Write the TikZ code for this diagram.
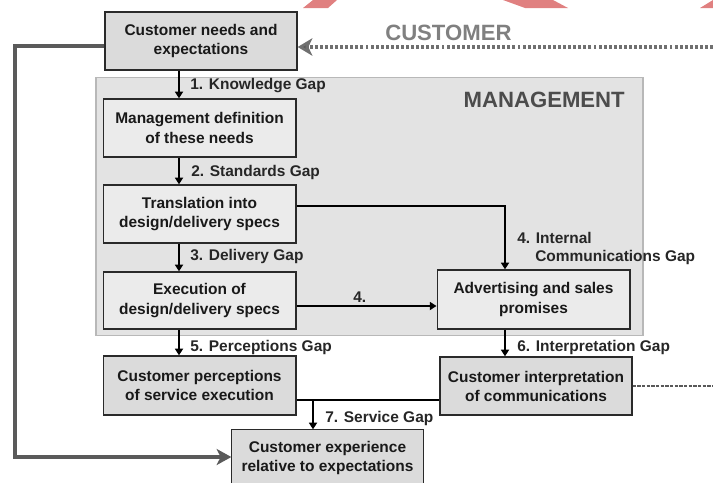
\documentclass[tikz,border=0pt]{standalone}
\usepackage{fontspec}
\setmainfont{Liberation Sans}
\usetikzlibrary{arrows.meta,backgrounds}
\definecolor{boxline}{HTML}{2A2A2A}
\definecolor{mgmtfill}{HTML}{E3E3E3}
\definecolor{mgmtline}{HTML}{B8B8B8}
\definecolor{lightbox}{HTML}{EBEBEB}
\definecolor{darkbox}{HTML}{DBDBDB}
\definecolor{fbgray}{HTML}{5A5A5A}
\definecolor{dotgray}{HTML}{707070}
\definecolor{wmark}{HTML}{E08080}
\tikzset{
  box/.style={draw=boxline, line width=1pt, minimum width=144.5pt, minimum height=43.5pt,
    align=center, inner sep=0pt, font=\bfseries\fontsize{11.6}{14.3}\selectfont, text=black!90},
  lbox/.style={box, fill=lightbox},
  dbox/.style={box, fill=darkbox},
  gaplabel/.style={anchor=west, inner sep=0pt, font=\bfseries\fontsize{11.6}{14.3}\selectfont, text=black!85},
  arr/.style={line width=1.4pt, -{Triangle[width=6pt,length=5pt]}},
  plain/.style={line width=1.4pt},
  fb/.style={draw=fbgray, line width=2.6pt, -{Stealth[width=12pt,length=11pt,inset=3pt]}},
  dotarr/.style={draw=dotgray, line width=2.4pt, dash pattern=on 2.2pt off 1.6pt,
    -{Stealth[width=13pt,length=11pt,inset=3pt,fill=fbgray]}},
  dotline/.style={draw=black!65, line width=2pt, dash pattern=on 2.4pt off 1.1pt},
  region/.style={font=\bfseries\fontsize{16.6}{20}\selectfont}
}
\begin{document}
\begin{tikzpicture}[x=0.75pt,y=-0.75pt]
\useasboundingbox (0,0) rectangle (713,482);
% watermark fragments
\fill[wmark] (313,0) -- (337,0) -- (328,8) -- (303,8) -- cycle;
\fill[wmark] (503,0) -- (553,0) -- (568,8) -- (525,8) -- cycle;
\fill[wmark] (713,0) -- (713,8) -- (700,8) -- cycle;
% management region
\node[draw=mgmtline, fill=mgmtfill, line width=1pt, minimum width=410.25pt, minimum height=193.5pt, inner sep=0pt] (mgmt) at (369.5,206.5) {};
\node[region, text=black!70, anchor=east, inner sep=0pt] (mgmtlabel) at (625,100) {MANAGEMENT};
\node[region, text=black!50, anchor=west, inner sep=0pt] (custlabel) at (385,33) {CUSTOMER};
% boxes
\node[dbox, minimum width=144pt] (b1) at (201,41) {Customer needs and\\expectations};
\node[lbox] (b2) at (199.5,128) {Management definition\\of these needs};
\node[lbox] (b3) at (199.5,214) {Translation into\\design/delivery specs};
\node[lbox, minimum height=42.75pt] (b4) at (199.5,300.5) {Execution of\\design/delivery specs};
\node[lbox, minimum height=44.25pt] (b5) at (533.5,299.5) {Advertising and sales\\promises};
\node[dbox, minimum height=44.25pt] (b6) at (199.5,385.5) {Customer perceptions\\of service execution};
\node[dbox, minimum width=144pt] (b7) at (536,386) {Customer interpretation\\of communications};
\node[box, draw=none, minimum width=143.25pt, minimum height=42pt] (b8) at (327.5,458) {Customer experience\\relative to expectations};
\begin{scope}[on background layer]
\draw[draw=boxline, fill=darkbox, line width=1pt] (b8.south west) ++(0,10) -- (b8.north west) -- (b8.north east) -- ([yshift=-10pt]b8.south east);
\end{scope}
% helper coordinates
\coordinate (ax) at (179,0);
\coordinate (r4) at (505,206);
\coordinate (h4) at (0,306);
\coordinate (s7) at (313,400);
\coordinate (fbtop) at (15,46);
\coordinate (fbbot) at (15,457);
\coordinate (cright) at (713,47);
\coordinate (iright) at (713,386);
% vertical gap arrows
\draw[arr] (b1.south -| ax) -- (b2.north -| ax);
\draw[arr] (b2.south -| ax) -- (b3.north -| ax);
\draw[arr] (b3.south -| ax) -- (b4.north -| ax);
\draw[arr] (b4.south -| ax) -- (b6.north -| ax);
\draw[arr] (b3.east |- r4) -- (r4) -- (b5.north -| r4);
\draw[arr] (b4.east |- h4) -- (b5.west |- h4);
\draw[arr] (b5.south -| r4) -- (b7.north -| r4);
\draw[plain] (b6.east |- s7) -- (b7.west |- s7);
\draw[arr] (s7) -- (b8.north -| s7);
% feedback and customer lines
\draw[fb] (b1.west |- fbtop) -- (fbtop) -- (fbbot) -- (b8.west |- fbbot);
\draw[dotarr] (cright) -- (b1.east |- cright);
\draw[dotline] (b7.east |- iright) -- (iright);
% labels
\node[gaplabel] (l1) at (190,86) {1. Knowledge Gap};
\node[gaplabel] (l2) at (191,172) {2. Standards Gap};
\node[gaplabel] (l3) at (190,256) {3. Delivery Gap};
\node[gaplabel] (l4) at (353,297) {4.};
\node[gaplabel] (l4a) at (517,238) {4. Internal};
\node[gaplabel] (l4b) at (535,257) {Communications Gap};
\node[gaplabel] (l5) at (190,347) {5. Perceptions Gap};
\node[gaplabel] (l6) at (517,347) {6. Interpretation Gap};
\node[gaplabel] (l7) at (325,418) {7. Service Gap};
\end{tikzpicture}
\end{document}
